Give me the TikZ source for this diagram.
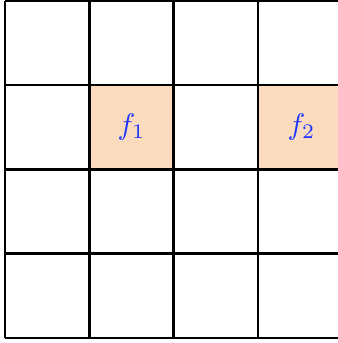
\documentclass[tikz,border=0pt]{standalone}
\usepackage{tikz}
\usetikzlibrary{positioning}
\usepackage{xcolor}
\definecolor{cellfill}{HTML}{FADBBD}
\definecolor{label}{HTML}{1A33FF}

\begin{document}
\begin{tikzpicture}[
  cellbox/.style={fill=cellfill, minimum size=1cm, inner sep=0pt, text=label},
  gridline/.style={line width=0.9pt, black}
]
  \useasboundingbox (-0.059,-0.059) rectangle (3.945,4.006);

  \node[cellbox] (f1) at (1.5,2.5) {$f_1$};
  \node[cellbox, right=1cm of f1] (f2) {$f_2$};

  \draw[gridline] (0,0) grid (4,4);
\end{tikzpicture}
\end{document}
